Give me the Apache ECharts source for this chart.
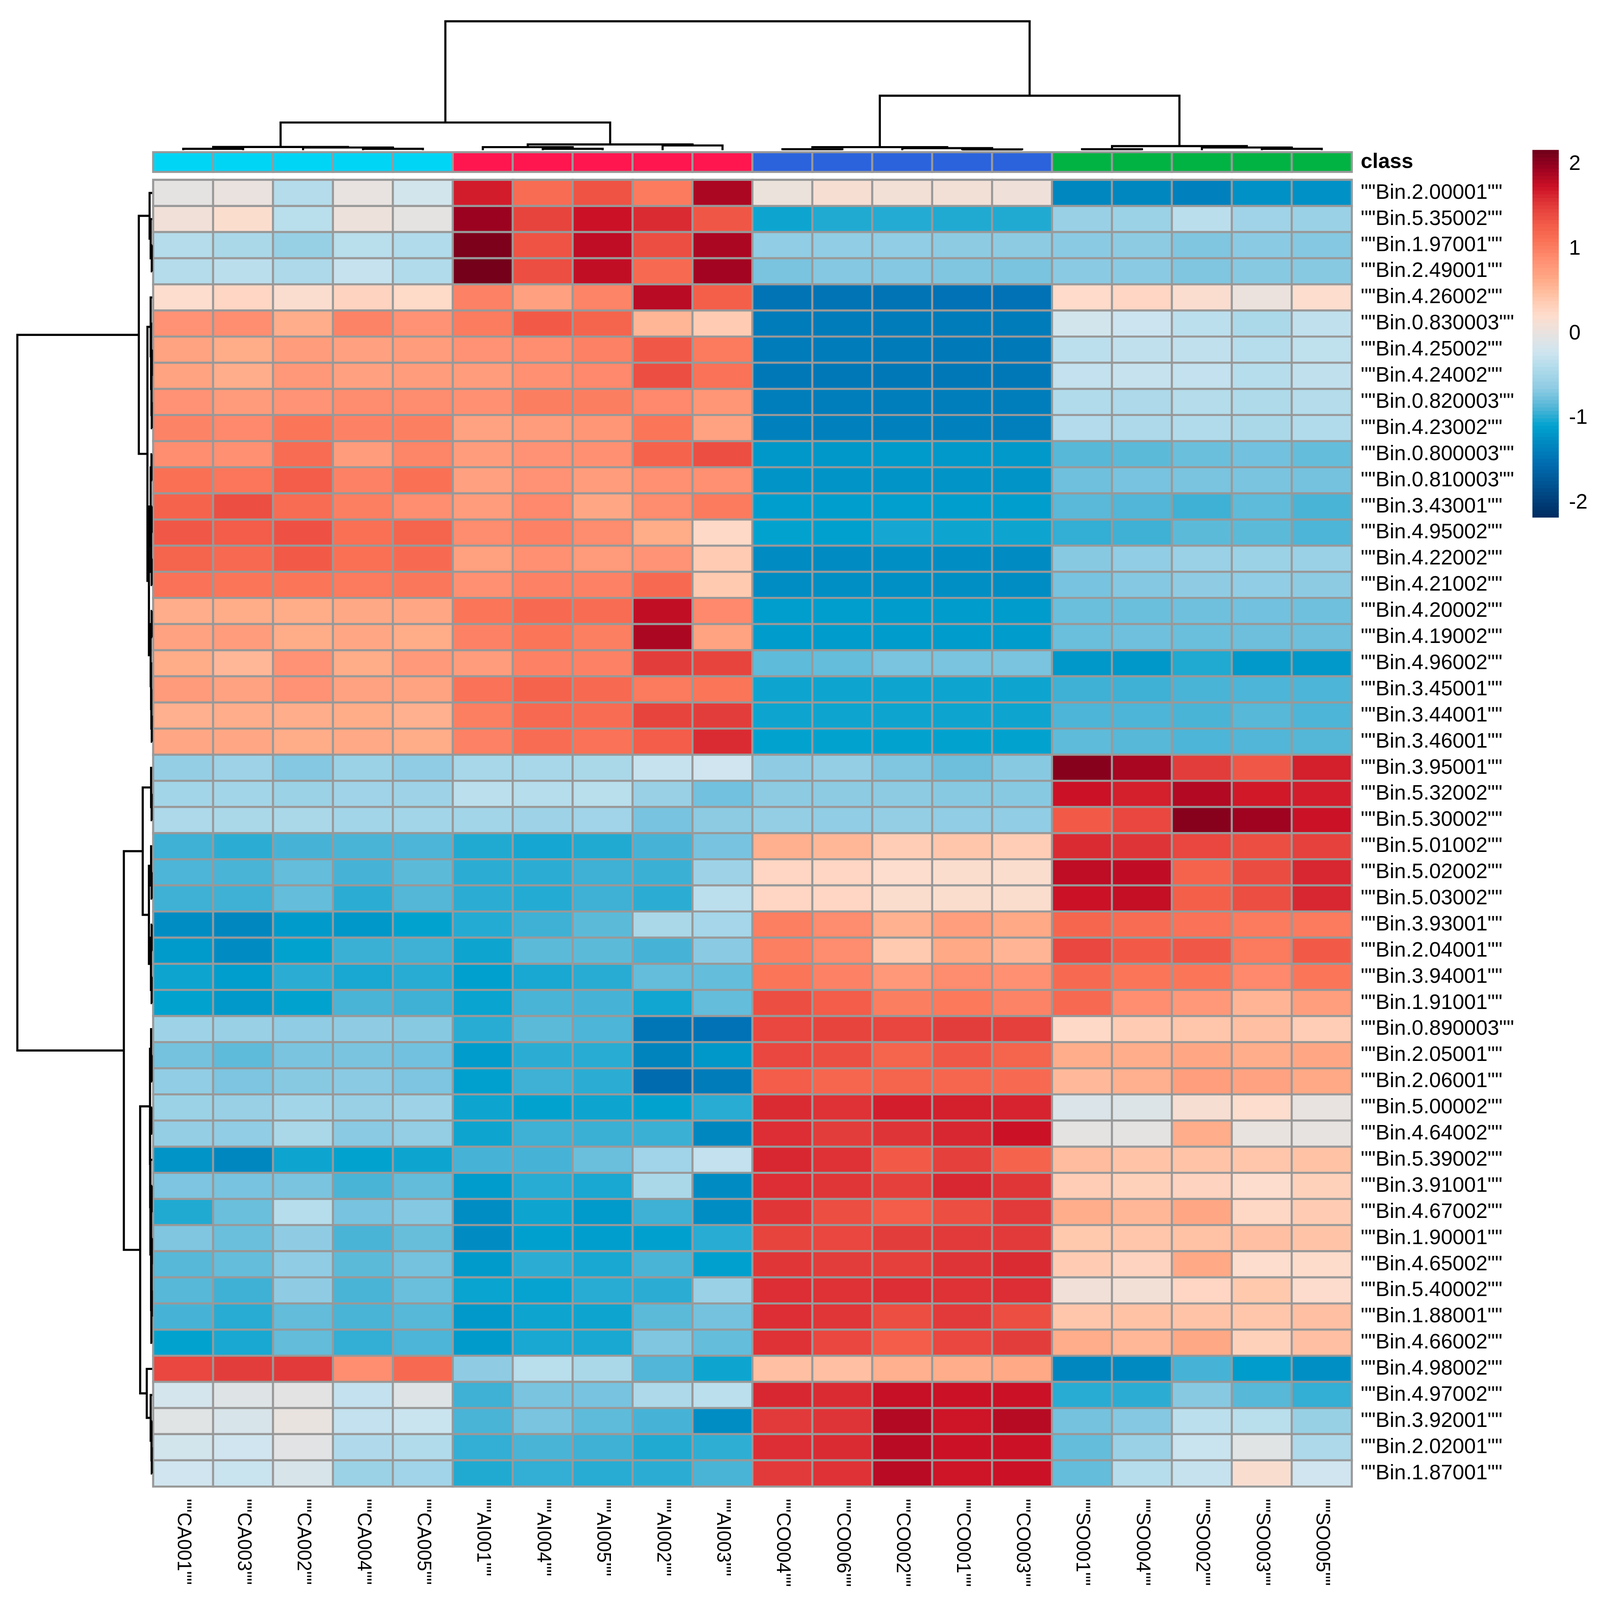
<!DOCTYPE html>
<html><head><meta charset="utf-8">
<style>html,body{margin:0;padding:0;background:#fff;overflow:hidden}#c{width:100vw;height:100vh}</style>
<script src="https://cdn.jsdelivr.net/npm/echarts@6/dist/echarts.min.js"></script>
</head><body><div id="c"></div>
<script>
const samples = ['CA001','CA003','CA002','CA004','CA005','AI001','AI004','AI005','AI002','AI003','CO004','CO006','CO002','CO001','CO003','SO001','SO004','SO002','SO003','SO005'];
const classOfSample = [0,0,0,0,0,1,1,1,1,1,2,2,2,2,2,3,3,3,3,3];
const classColors = ['#00D5F6','#FF164F','#2B63DD','#00B342'];
const bins = ['Bin.2.00001','Bin.5.35002','Bin.1.97001','Bin.2.49001','Bin.4.26002','Bin.0.830003','Bin.4.25002','Bin.4.24002','Bin.0.820003','Bin.4.23002','Bin.0.800003','Bin.0.810003','Bin.3.43001','Bin.4.95002','Bin.4.22002','Bin.4.21002','Bin.4.20002','Bin.4.19002','Bin.4.96002','Bin.3.45001','Bin.3.44001','Bin.3.46001','Bin.3.95001','Bin.5.32002','Bin.5.30002','Bin.5.01002','Bin.5.02002','Bin.5.03002','Bin.3.93001','Bin.2.04001','Bin.3.94001','Bin.1.91001','Bin.0.890003','Bin.2.05001','Bin.2.06001','Bin.5.00002','Bin.4.64002','Bin.5.39002','Bin.3.91001','Bin.4.67002','Bin.1.90001','Bin.4.65002','Bin.5.40002','Bin.1.88001','Bin.4.66002','Bin.4.98002','Bin.4.97002','Bin.3.92001','Bin.2.02001','Bin.1.87001'];
const legendTicks = [-2,-1,0,1,2];
const rampColors = ['#002B60','#00417C','#005897','#006EB2','#0087C0','#00A2CF','#52B6D7','#8DCBE3','#ACD9EA','#CEE5F0','#E8E3E0','#FEDCCC','#FFC5A9','#FFA986','#FF9072','#FB7458','#F25A47','#E23A3A','#CC1126','#9C0220','#6E0019'];
const valueMin = -2.17, valueMax = 2.17;
const matrix = [
[-.03,.02,-.38,0,-.18,1.68,1.15,1.35,1.03,1.88,.04,.14,.1,.1,.07,-1.3,-1.3,-1.35,-1.22,-1.22],
[.09,.19,-.35,.05,-.03,1.96,1.45,1.74,1.6,1.33,-1.05,-1,-.99,-1,-1,-.57,-.55,-.34,-.52,-.56],
[-.38,-.45,-.58,-.35,-.4,2.1,1.35,1.8,1.38,1.88,-.62,-.62,-.62,-.65,-.65,-.66,-.65,-.7,-.66,-.68],
[-.38,-.34,-.43,-.27,-.4,2.14,1.38,1.78,1.17,1.92,-.72,-.68,-.68,-.7,-.72,-.66,-.66,-.7,-.67,-.67],
[.2,.27,.18,.3,.24,.98,.72,.96,1.82,1.26,-1.47,-1.47,-1.47,-1.48,-1.48,.23,.27,.18,.03,.2],
[.85,.88,.62,.97,.85,1.02,1.3,1.22,.55,.37,-1.4,-1.4,-1.4,-1.4,-1.4,-.18,-.23,-.33,-.44,-.3],
[.7,.63,.76,.72,.76,.85,.88,.98,1.32,1.03,-1.4,-1.4,-1.41,-1.42,-1.42,-.33,-.3,-.3,-.37,-.31],
[.7,.62,.8,.72,.76,.76,.87,.92,1.38,1.1,-1.43,-1.43,-1.43,-1.43,-1.43,-.29,-.27,-.29,-.37,-.3],
[.85,.77,.84,.9,.9,.87,1.01,1.01,.92,.82,-1.38,-1.38,-1.38,-1.38,-1.38,-.4,-.43,-.38,-.42,-.38],
[.97,.92,1.08,.98,1,.71,.76,.82,1.08,.71,-1.36,-1.36,-1.36,-1.36,-1.37,-.39,-.43,-.4,-.45,-.4],
[.88,.87,1.15,.76,.95,.76,.85,.87,1.23,1.38,-1.17,-1.17,-1.15,-1.16,-1.16,-.85,-.83,-.78,-.75,-.8],
[1.12,1.07,1.28,.98,1.12,.72,.85,.76,.87,.87,-1.2,-1.2,-1.2,-1.2,-1.2,-.76,-.73,-.72,-.72,-.74],
[1.23,1.38,1.15,1,.88,.76,.92,.67,.9,1.03,-1.12,-1.12,-1.11,-1.12,-1.12,-.84,-.87,-.92,-.82,-.89],
[1.32,1.28,1.36,1.12,1.22,.9,.98,.9,.63,.25,-1.08,-1.1,-1.03,-1.05,-1.05,-.95,-.92,-.83,-.83,-.88],
[1.22,1.18,1.3,1.12,1.17,.73,.87,.78,.84,.38,-1.27,-1.27,-1.24,-1.25,-1.27,-.67,-.62,-.56,-.55,-.56],
[1.1,1.08,1.08,1.04,1.06,.87,.98,.98,1.17,.39,-1.25,-1.24,-1.23,-1.24,-1.25,-.73,-.68,-.64,-.62,-.65],
[.62,.63,.63,.66,.67,1.08,1.17,1.15,1.78,.92,-1.12,-1.12,-1.13,-1.13,-1.13,-.78,-.78,-.76,-.75,-.76],
[.71,.76,.63,.67,.63,.98,1.08,1,1.88,.7,-1.13,-1.13,-1.13,-1.13,-1.13,-.78,-.76,-.78,-.77,-.77],
[.63,.54,.85,.63,.79,.76,.98,.98,1.5,1.45,-.82,-.8,-.72,-.72,-.72,-1.17,-1.17,-1,-1.16,-1.16],
[.77,.71,.85,.71,.7,1.1,1.23,1.18,1.04,1.08,-1.05,-1.05,-1.05,-1.05,-1.05,-.92,-.92,-.89,-.88,-.88],
[.6,.62,.62,.63,.6,1,1.18,1.15,1.45,1.5,-1.05,-1.05,-1.05,-1.05,-1.05,-.88,-.88,-.89,-.85,-.88],
[.67,.67,.63,.65,.63,.98,1.15,1.1,1.28,1.6,-1.08,-1.08,-1.08,-1.08,-1.08,-.82,-.85,-.88,-.87,-.86],
[-.6,-.54,-.68,-.55,-.63,-.47,-.47,-.45,-.27,-.2,-.64,-.6,-.7,-.77,-.67,2.05,1.9,1.5,1.32,1.66],
[-.5,-.5,-.55,-.52,-.53,-.33,-.37,-.35,-.57,-.75,-.65,-.65,-.65,-.67,-.67,1.74,1.66,1.85,1.7,1.67],
[-.43,-.45,-.45,-.5,-.5,-.5,-.53,-.51,-.73,-.65,-.6,-.62,-.6,-.62,-.62,1.3,1.43,2.05,1.94,1.74],
[-.92,-.97,-.9,-.89,-.88,-1,-1.03,-1,-.9,-.73,.6,.54,.36,.42,.36,1.6,1.55,1.43,1.38,1.47],
[-.88,-.89,-.8,-.9,-.83,-.97,-.97,-.92,-.93,-.53,.27,.27,.2,.19,.19,1.8,1.79,1.23,1.4,1.62],
[-.92,-.92,-.8,-.97,-.86,-.97,-.99,-.92,-.97,-.33,.27,.27,.19,.19,.19,1.74,1.77,1.26,1.38,1.62],
[-1.25,-1.3,-1.14,-1.17,-1.08,-.99,-.92,-.83,-.45,-.48,1,.9,.59,.75,.65,1.2,1.15,1.1,1.03,1.03],
[-1.14,-1.26,-1.08,-.93,-.92,-1.05,-.83,-.83,-.9,-.66,1,.9,.39,.65,.56,1.43,1.3,1.32,1.04,1.3],
[-1.05,-1.12,-.97,-1.02,-.98,-1.1,-1.02,-.98,-.8,-.8,1.08,.98,.8,.9,.87,1.17,1.08,1.08,.92,1.08],
[-1.08,-1.16,-1.08,-.89,-.92,-1.06,-.89,-.9,-1.04,-.8,1.38,1.28,1.01,1.05,.97,1.18,.88,.8,.56,.75],
[-.53,-.57,-.63,-.64,-.67,-.98,-.83,-.88,-1.45,-1.48,1.43,1.45,1.44,1.5,1.48,.25,.37,.42,.48,.36],
[-.74,-.82,-.72,-.72,-.75,-1.13,-.97,-.98,-1.33,-1.17,1.43,1.38,1.22,1.32,1.22,.62,.62,.67,.62,.67],
[-.62,-.71,-.67,-.66,-.71,-1.1,-.92,-.97,-1.55,-1.4,1.28,1.2,1.22,1.2,1.17,.53,.6,.75,.71,.65],
[-.55,-.57,-.5,-.57,-.53,-1.05,-1.08,-1.05,-1.08,-.98,1.6,1.56,1.67,1.66,1.64,-.12,-.1,.15,.2,0],
[-.6,-.62,-.45,-.66,-.61,-1.05,-.92,-.93,-.93,-1.3,1.58,1.5,1.55,1.62,1.74,-.03,-.03,.62,.01,-.01],
[-1.2,-1.3,-1.05,-1.08,-1.05,-.9,-.9,-.78,-.51,-.29,1.62,1.56,1.3,1.48,1.23,.5,.44,.44,.42,.46],
[-.71,-.73,-.72,-.89,-.81,-1.13,-.98,-1.02,-.45,-1.26,1.58,1.54,1.48,1.62,1.54,.36,.32,.3,.2,.32],
[-1,-.78,-.37,-.73,-.68,-1.25,-1.05,-1.15,-.92,-1.25,1.54,1.38,1.28,1.38,1.52,.62,.54,.67,.26,.37],
[-.7,-.78,-.64,-.89,-.79,-1.26,-1.1,-1.12,-1.1,-.98,1.45,1.43,1.5,1.52,1.52,.4,.42,.46,.48,.44],
[-.85,-.8,-.63,-.83,-.74,-1.14,-.97,-1.02,-.89,-1.1,1.54,1.5,1.48,1.55,1.6,.37,.3,.65,.2,.22],
[-.85,-.92,-.64,-.89,-.78,-1.06,-1.07,-.98,-.97,-.56,1.58,1.56,1.58,1.56,1.58,.09,.1,.27,.4,.21],
[-.9,-.98,-.81,-.89,-.85,-1.16,-1.05,-1.05,-.83,-.74,1.58,1.54,1.38,1.52,1.38,.42,.46,.44,.42,.48],
[-1.08,-1.02,-.81,-.95,-.88,-1.14,-1.02,-1.02,-.7,-.8,1.56,1.43,1.28,1.43,1.5,.62,.54,.66,.32,.48],
[1.43,1.5,1.52,.88,1.18,-.64,-.35,-.45,-.87,-1.05,.48,.48,.6,.62,.65,-1.3,-1.28,-.9,-1.13,-1.24],
[-.17,-.08,-.04,-.29,-.08,-.92,-.72,-.73,-.43,-.33,1.62,1.6,1.76,1.74,1.74,-.98,-.97,-.67,-.85,-.95],
[-.06,-.14,.01,-.29,-.24,-.89,-.72,-.82,-.9,-1.25,1.52,1.55,1.85,1.72,1.83,-.74,-.68,-.33,-.35,-.58],
[-.18,-.2,-.05,-.41,-.4,-.95,-.89,-.92,-1,-.96,1.58,1.6,1.82,1.74,1.74,-.8,-.56,-.25,-.07,-.43],
[-.2,-.25,-.14,-.55,-.51,-1,-.95,-.98,-.97,-.89,1.52,1.56,1.82,1.72,1.74,-.8,-.37,-.27,.17,-.2]
];
// Dendrograms: a node is [height, child, child]; a leaf is its position in the display order.
const columnTree = [100,
  [21.5,
    [2.5,[1.1,0,1],[2.1,2,[1.1,3,4]]],
    [4.5,[2.4,5,[1.1,6,7]],[3.7,8,9]]],
  [42.3,
    [2.4,[.8,10,11],[1.6,12,[.65,13,14]]],
    [3.2,[.8,15,16],[2.1,17,[1.1,18,19]]]]];
const rowTree = [100,
  [9.9,
    [1.9,0,[1.1,1,[.3,2,3]]],
    [3.5,
      [1.1,4,[.8,5,[.5,[.25,6,7],[.3,8,9]]]],
      [2.4,
        [1.1,[.5,10,11],[.8,[.4,12,13],[.4,14,15]]],
        [1.1,[.4,16,17],[.8,18,[.6,19,[.3,20,21]]]]]]],
  [21,
    [7,
      [.8,22,[.4,23,24]],
      [2.4,[.8,25,[.4,26,27]],[.9,[.4,28,29],[.4,30,31]]]],
    [8.9,
      [1.6,
        [.8,32,[.4,33,34]],
        [1.5,[.6,35,36],[1.3,37,[.8,[.4,38,39],[.6,[.4,[.25,40,41],[.25,42,43]],44]]]]],
      [4,45,[1.1,46,[.5,47,[.3,48,49]]]]]]];

function flatten(tree){
  const merges=[];
  (function walk(n){
    if(typeof n==='number') return {p:n+.5,h:0};
    const a=walk(n[1]), b=walk(n[2]);
    merges.push([a.p,a.h,b.p,b.h,n[0]]);
    return {p:(a.p+b.p)/2,h:n[0]};
  })(tree);
  return merges;
}
const quoted=s=>'""'+s+'""';
// The layout is measured on the 4427x4665 reference and follows the real window size.
const winW=window.innerWidth, winH=window.innerHeight;
const sx=winW/4427, sy=winH/4665, sm=(sx+sy)/2;
const FONT='"Liberation Sans"', GRAY='#999999';
const L=424*sx,R=3740*sx,T=524.5*sy,B=4334*sy;
const W=R-L,H=B-T;
const LW=6*sm;

const heatData=[];
matrix.forEach((row,r)=>row.forEach((v,c)=>heatData.push([c,r,v])));
const levels=[];
for(let i=0;i<100;i++){const lo=valueMin+(valueMax-valueMin)*i/100,hi=valueMin+(valueMax-valueMin)*(i+1)/100;levels.push([lo,hi,(lo+hi)/2]);}

const hidden={show:false};
function dendroRender(horizontal){
  return function(params,api){
    const p1=api.value(0),h1=api.value(1),p2=api.value(2),h2=api.value(3),h=api.value(4);
    const pt=(p,v)=>horizontal?api.coord([v,p]):api.coord([p,v]);
    return {type:'polyline',shape:{points:[pt(p1,h1),pt(p1,h),pt(p2,h),pt(p2,h2)]},
      style:{fill:null,stroke:'#000',lineWidth:LW,lineCap:'butt',lineJoin:'miter'}};
  };
}
const option={
  animation:false,backgroundColor:'#fff',
  textStyle:{fontFamily:FONT},
  visualMap:[{type:'continuous',show:false,min:valueMin,max:valueMax,dimension:2,seriesIndex:[0,4],inRange:{color:rampColors}}],
  grid:[
    {left:L,top:T,width:W,height:H},
    {left:L,top:444*sy,width:W,height:57*sy},
    {left:L,top:62*sy,width:W,height:376*sy},
    {left:48*sx,top:T,width:373*sx,height:H},
    {left:4240*sx,top:437*sy,width:73*sx,height:1071*sy}
  ],
  xAxis:[
    {gridIndex:0,type:'category',data:samples.map(quoted),axisLine:hidden,axisTick:hidden,splitLine:hidden,
      axisLabel:{interval:0,rotate:-90,margin:36*sy,color:'#000',fontFamily:FONT,fontSize:56*sy}},
    {gridIndex:1,type:'category',data:samples,show:false},
    {gridIndex:2,type:'value',min:0,max:20,show:false},
    {gridIndex:3,type:'value',min:0,max:100,inverse:true,show:false},
    {gridIndex:4,type:'value',min:0,max:1,show:false}
  ],
  yAxis:[
    {gridIndex:0,type:'category',inverse:true,position:'right',data:bins.map(quoted),axisLine:hidden,axisTick:hidden,splitLine:hidden,
      axisLabel:{interval:0,margin:25*sx,color:'#000',fontFamily:FONT,fontSize:58*sx}},
    {gridIndex:1,type:'category',position:'right',data:['class'],axisLine:hidden,axisTick:hidden,splitLine:hidden,
      axisLabel:{margin:25*sx,color:'#000',fontFamily:FONT,fontSize:58*sx,fontWeight:'bold'}},
    {gridIndex:2,type:'value',min:0,max:100,show:false},
    {gridIndex:3,type:'value',min:0,max:50,inverse:true,show:false},
    {gridIndex:4,type:'value',min:valueMin,max:valueMax,position:'right',axisLine:hidden,axisTick:hidden,splitLine:hidden,
      axisLabel:{customValues:legendTicks,margin:28*sx,color:'#000',fontFamily:FONT,fontSize:58*sx}}
  ],
  series:[
    {type:'heatmap',xAxisIndex:0,yAxisIndex:0,data:heatData,progressive:0,
      itemStyle:{borderColor:GRAY,borderWidth:LW},emphasis:{disabled:true}},
    {type:'heatmap',xAxisIndex:1,yAxisIndex:1,progressive:0,
      data:classOfSample.map((k,i)=>({value:[i,0,k],itemStyle:{color:classColors[k]}})),
      itemStyle:{borderColor:GRAY,borderWidth:LW},emphasis:{disabled:true}},
    {type:'custom',xAxisIndex:2,yAxisIndex:2,clip:false,data:flatten(columnTree),renderItem:dendroRender(false),silent:true},
    {type:'custom',xAxisIndex:3,yAxisIndex:3,clip:false,data:flatten(rowTree),renderItem:dendroRender(true),silent:true},
    {type:'custom',xAxisIndex:4,yAxisIndex:4,clip:false,silent:true,data:levels,
      renderItem:function(params,api){
        const a=api.coord([0,api.value(0)]),b=api.coord([1,api.value(1)]);
        return {type:'rect',shape:{x:a[0],y:b[1],width:b[0]-a[0],height:a[1]-b[1]+1},
          style:{fill:api.visual('color'),stroke:null}};
      }}
  ]
};
const chart=echarts.init(document.getElementById('c'),null,{renderer:'canvas',width:winW,height:winH,devicePixelRatio:1});
chart.setOption(option);
</script></body></html>
